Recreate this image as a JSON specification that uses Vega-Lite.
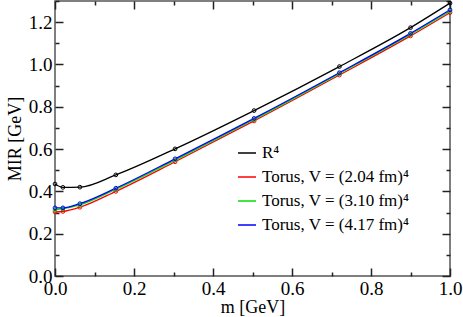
{
  "$schema": "https://vega.github.io/schema/vega-lite/v6.json",
  "autosize": {"type": "none"},
  "width": 395,
  "height": 275,
  "padding": {"left": 55, "top": 1, "right": 13, "bottom": 41},
  "config": {
    "font": "Liberation Serif",
    "view": {"stroke": "#555", "strokeWidth": 1.5},
    "axis": {
      "domain": false,
      "grid": false,
      "labelFont": "Liberation Serif",
      "labelFontSize": 19,
      "labelColor": "#000",
      "titleFont": "Liberation Serif",
      "titleFontSize": 18,
      "titleFontWeight": "normal",
      "titleColor": "#000"
    }
  },
  "data": {
    "values": [
      {"m": 0.0, "M": 0.435, "s": "R⁴"},
      {"m": 0.02, "M": 0.419, "s": "R⁴"},
      {"m": 0.063, "M": 0.42, "s": "R⁴"},
      {"m": 0.154, "M": 0.478, "s": "R⁴"},
      {"m": 0.304, "M": 0.601, "s": "R⁴"},
      {"m": 0.504, "M": 0.782, "s": "R⁴"},
      {"m": 0.72, "M": 0.99, "s": "R⁴"},
      {"m": 0.9, "M": 1.174, "s": "R⁴"},
      {"m": 1.0, "M": 1.29, "s": "R⁴"},
      {"m": 0.0, "M": 0.303, "s": "Torus, V = (2.04 fm)⁴"},
      {"m": 0.02, "M": 0.305, "s": "Torus, V = (2.04 fm)⁴"},
      {"m": 0.063, "M": 0.325, "s": "Torus, V = (2.04 fm)⁴"},
      {"m": 0.154, "M": 0.4, "s": "Torus, V = (2.04 fm)⁴"},
      {"m": 0.304, "M": 0.54, "s": "Torus, V = (2.04 fm)⁴"},
      {"m": 0.504, "M": 0.733, "s": "Torus, V = (2.04 fm)⁴"},
      {"m": 0.72, "M": 0.95, "s": "Torus, V = (2.04 fm)⁴"},
      {"m": 0.9, "M": 1.135, "s": "Torus, V = (2.04 fm)⁴"},
      {"m": 1.0, "M": 1.245, "s": "Torus, V = (2.04 fm)⁴"},
      {"m": 0.0, "M": 0.313, "s": "Torus, V = (3.10 fm)⁴"},
      {"m": 0.02, "M": 0.318, "s": "Torus, V = (3.10 fm)⁴"},
      {"m": 0.063, "M": 0.336, "s": "Torus, V = (3.10 fm)⁴"},
      {"m": 0.154, "M": 0.41, "s": "Torus, V = (3.10 fm)⁴"},
      {"m": 0.304, "M": 0.548, "s": "Torus, V = (3.10 fm)⁴"},
      {"m": 0.504, "M": 0.74, "s": "Torus, V = (3.10 fm)⁴"},
      {"m": 0.72, "M": 0.957, "s": "Torus, V = (3.10 fm)⁴"},
      {"m": 0.9, "M": 1.142, "s": "Torus, V = (3.10 fm)⁴"},
      {"m": 1.0, "M": 1.252, "s": "Torus, V = (3.10 fm)⁴"},
      {"m": 0.0, "M": 0.322, "s": "Torus, V = (4.17 fm)⁴"},
      {"m": 0.02, "M": 0.322, "s": "Torus, V = (4.17 fm)⁴"},
      {"m": 0.063, "M": 0.342, "s": "Torus, V = (4.17 fm)⁴"},
      {"m": 0.154, "M": 0.415, "s": "Torus, V = (4.17 fm)⁴"},
      {"m": 0.304, "M": 0.554, "s": "Torus, V = (4.17 fm)⁴"},
      {"m": 0.504, "M": 0.745, "s": "Torus, V = (4.17 fm)⁴"},
      {"m": 0.72, "M": 0.961, "s": "Torus, V = (4.17 fm)⁴"},
      {"m": 0.9, "M": 1.147, "s": "Torus, V = (4.17 fm)⁴"},
      {"m": 1.0, "M": 1.258, "s": "Torus, V = (4.17 fm)⁴"}
    ]
  },
  "layer": [
    {
      "mark": {"type": "line", "interpolate": "monotone", "strokeWidth": 1.3,
               "point": {"filled": false, "size": 14, "strokeWidth": 1}},
      "encoding": {
        "x": {"field": "m", "type": "quantitative",
              "scale": {"domain": [0, 1], "nice": false},
              "axis": {"orient": "bottom", "title": "m [GeV]", "titlePadding": 0,
                       "ticks": true, "tickColor": "#222222", "tickWidth": 1.5, "tickOpacity": 1,
                       "values": [0, 0.2, 0.4, 0.6, 0.8, 1.0], "format": ".1f",
                       "offset": -8, "tickSize": 8,
                       "labelPadding": 3, "labelFlush": false}},
        "y": {"field": "M", "type": "quantitative",
              "scale": {"domain": [0, 1.3], "nice": false},
              "axis": {"orient": "left", "title": "MIR [GeV]", "titlePadding": 4,
                       "ticks": true, "tickColor": "#222222", "tickWidth": 1.5, "tickOpacity": 1,
                       "values": [0, 0.2, 0.4, 0.6, 0.8, 1.0, 1.2], "format": ".1f",
                       "offset": -8, "tickSize": 8,
                       "labelPadding": 3, "labelFlush": false}},
        "color": {"field": "s", "type": "nominal",
                  "scale": {"domain": ["R⁴", "Torus, V = (2.04 fm)⁴", "Torus, V = (3.10 fm)⁴", "Torus, V = (4.17 fm)⁴"],
                            "range": ["#000000", "#ff0000", "#00e000", "#0000ff"]},
                  "legend": {"title": null, "orient": "none", "legendX": 182, "legendY": 142,
                             "symbolType": "stroke", "symbolSize": 324, "symbolStrokeWidth": 1.5,
                             "labelFontSize": 17, "labelFont": "Liberation Serif", "labelColor": "#000",
                             "rowPadding": 6, "labelOffset": 5, "labelLimit": 300}}
      }
    },
    {
      "mark": {"type": "point", "opacity": 0},
      "encoding": {
        "x": {"field": "m", "type": "quantitative", "scale": {"domain": [0, 1], "nice": false},
              "axis": {"orient": "top", "title": null, "labels": false,
                       "ticks": true, "tickColor": "#222222", "tickWidth": 1.5, "tickOpacity": 1,
                       "values": [0, 0.2, 0.4, 0.6, 0.8, 1.0], "offset": -8, "tickSize": 8}},
        "y": {"field": "M", "type": "quantitative", "scale": {"domain": [0, 1.3], "nice": false},
              "axis": {"orient": "right", "title": null, "labels": false,
                       "ticks": true, "tickColor": "#222222", "tickWidth": 1.5, "tickOpacity": 1,
                       "values": [0, 0.2, 0.4, 0.6, 0.8, 1.0, 1.2], "offset": -8, "tickSize": 8}}
      }
    },
    {
      "mark": {"type": "point", "opacity": 0},
      "encoding": {
        "x": {"field": "m", "type": "quantitative", "scale": {"domain": [0, 1], "nice": false},
              "axis": {"orient": "bottom", "title": null, "labels": false,
                       "ticks": true, "tickColor": "#222222", "tickWidth": 1.5, "tickOpacity": 1,
                       "values": [0.1, 0.3, 0.5, 0.7, 0.9], "offset": -4, "tickSize": 4}},
        "y": {"field": "M", "type": "quantitative", "scale": {"domain": [0, 1.3], "nice": false},
              "axis": {"orient": "left", "title": null, "labels": false,
                       "ticks": true, "tickColor": "#222222", "tickWidth": 1.5, "tickOpacity": 1,
                       "values": [0.1, 0.3, 0.5, 0.7, 0.9, 1.1, 1.3], "offset": -4, "tickSize": 4}}
      }
    },
    {
      "mark": {"type": "point", "opacity": 0},
      "encoding": {
        "x": {"field": "m", "type": "quantitative", "scale": {"domain": [0, 1], "nice": false},
              "axis": {"orient": "top", "title": null, "labels": false,
                       "ticks": true, "tickColor": "#222222", "tickWidth": 1.5, "tickOpacity": 1,
                       "values": [0.1, 0.3, 0.5, 0.7, 0.9], "offset": -4, "tickSize": 4}},
        "y": {"field": "M", "type": "quantitative", "scale": {"domain": [0, 1.3], "nice": false},
              "axis": {"orient": "right", "title": null, "labels": false,
                       "ticks": true, "tickColor": "#222222", "tickWidth": 1.5, "tickOpacity": 1,
                       "values": [0.1, 0.3, 0.5, 0.7, 0.9, 1.1, 1.3], "offset": -4, "tickSize": 4}}
      }
    }
  ]
}
